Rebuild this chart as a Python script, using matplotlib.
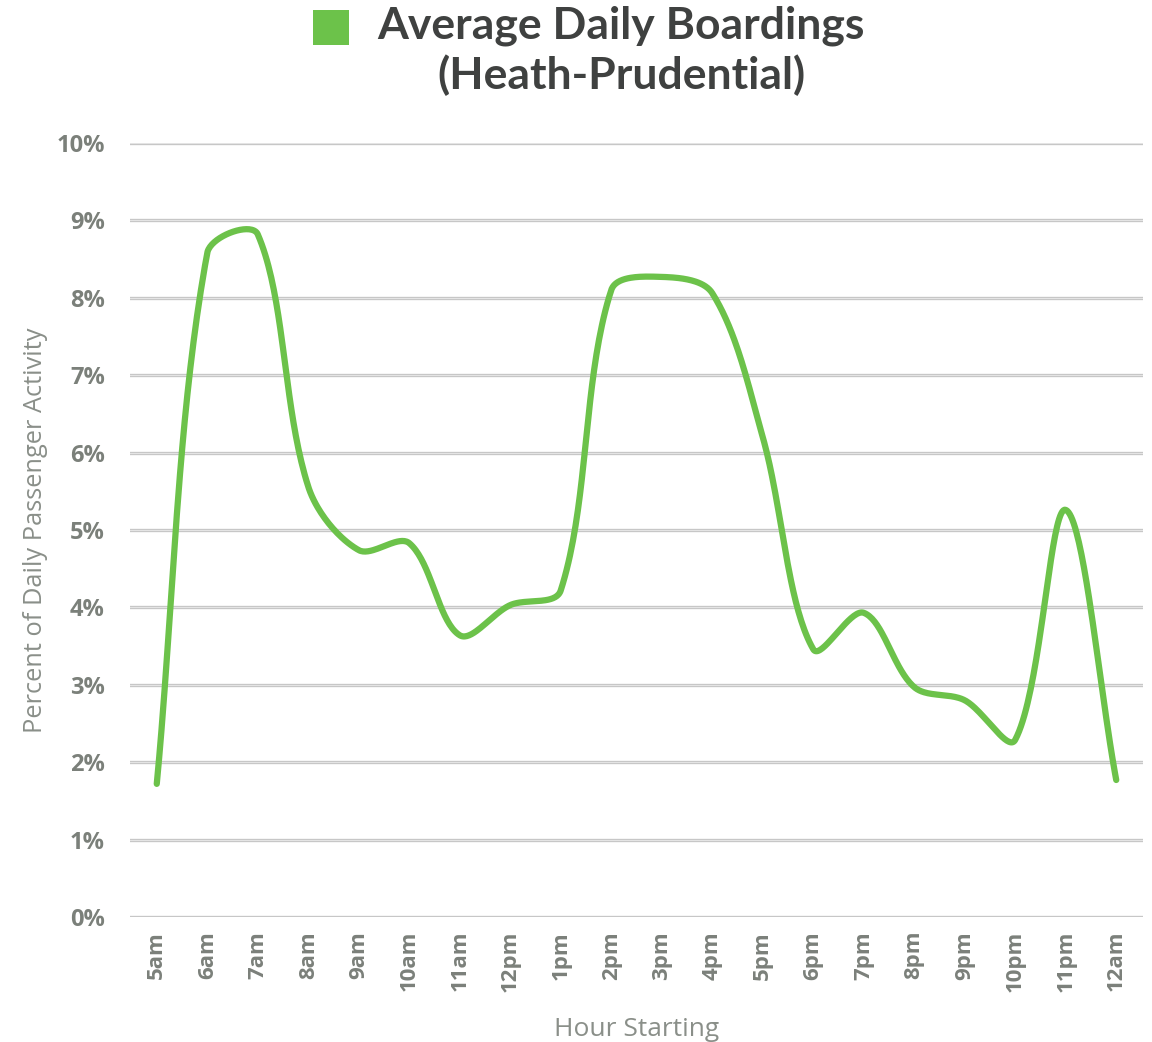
import numpy as np
import matplotlib
matplotlib.use("Agg")
import matplotlib.pyplot as plt
from matplotlib.patches import Rectangle

hours = ["5am", "6am", "7am", "8am", "9am", "10am", "11am", "12pm", "1pm", "2pm",
         "3pm", "4pm", "5pm", "6pm", "7pm", "8pm", "9pm", "10pm", "11pm", "12am"]
boardings = [1.72, 8.58, 8.82, 5.56, 4.74, 4.83, 3.64, 4.03, 4.22, 8.1,
             8.27, 8.06, 6.2, 3.46, 3.93, 2.97, 2.80, 2.29, 5.26, 1.77]
yticks = [0, 1, 2, 3, 4, 5, 6, 7, 8, 9, 10]
ytick_labels = [f"{v}%" for v in yticks]
series_name = "Average Daily Boardings\n(Heath-Prudential)"

GREEN = "#6cc24a"
TICK = "#7b807a"
LABEL = "#8a8f89"
TITLE = "#3f4140"

W, H = 1152, 1042


def smooth(xs, ys, ux, uy, n=40, k=1 / 3):
    """Spreadsheet-style smoothed line: cubic Bezier segments whose control
    arms are split in proportion to the neighbouring segment lengths
    (measured in screen units ux, uy per data unit)."""
    P = np.column_stack([np.asarray(xs, float) * ux, np.asarray(ys, float) * uy])
    m = len(P)
    cin = np.zeros_like(P)
    cout = np.zeros_like(P)
    for i in range(m):
        if i == 0:
            cout[i] = P[i] + (P[1] - P[0]) * k
            continue
        if i == m - 1:
            cin[i] = P[i] - (P[i] - P[i - 1]) * k
            continue
        T = P[i + 1] - P[i - 1]
        d0 = np.hypot(*(P[i] - P[i - 1]))
        d1 = np.hypot(*(P[i + 1] - P[i]))
        cin[i] = P[i] - T * d0 / (d0 + d1) * k
        cout[i] = P[i] + T * d1 / (d0 + d1) * k
    t = np.linspace(0, 1, n, endpoint=False)[:, None]
    pts = []
    for i in range(m - 1):
        b = ((1 - t) ** 3 * P[i] + 3 * (1 - t) ** 2 * t * cout[i]
             + 3 * (1 - t) * t ** 2 * cin[i + 1] + t ** 3 * P[i + 1])
        pts.append(b)
    pts.append(P[-1:])
    pts = np.vstack(pts)
    return pts[:, 0] / ux, pts[:, 1] / uy


fig = plt.figure(figsize=(W / 100, H / 100), dpi=100)
ax_l, ax_r, ax_t, ax_b = 130, 1143, 143, 917
ax = fig.add_axes([ax_l / W, 1 - ax_b / H, (ax_r - ax_l) / W, (ax_b - ax_t) / H])

x = np.arange(len(hours))
xlim = (-0.53, len(hours) - 0.47)
ylim = (0, 10)
ux = (ax_r - ax_l) / (xlim[1] - xlim[0])
uy = (ax_b - ax_t) / (ylim[1] - ylim[0])
sx, sy = smooth(x, boardings, ux, uy)
ax.plot(sx, sy, color=GREEN, lw=4.5, solid_capstyle="round", solid_joinstyle="round", zorder=3)

ax.set_xlim(*xlim)
ax.set_ylim(*ylim)
ax.set_yticks(yticks)
ax.set_yticklabels(ytick_labels)
ax.set_xticks(x)
ax.set_xticklabels(hours, rotation=90)

for v in yticks:
    ax.axhline(v, color="#c6c6c6", lw=2.4, zorder=1)
    ax.axhline(v, color="#e4e4e4", lw=0.8, zorder=1.1)

for s in ax.spines.values():
    s.set_visible(False)
ax.tick_params(axis="both", length=0)
ax.tick_params(axis="y", pad=18)
ax.tick_params(axis="x", pad=10)
for lab in ax.get_yticklabels() + ax.get_xticklabels():
    lab.set_fontfamily("Open Sans")
    lab.set_fontweight("bold")
    lab.set_color(TICK)
    lab.set_fontsize(17)
for lab in ax.get_xticklabels():
    lab.set_fontsize(16)

ax.set_ylabel("Percent of Daily Passenger Activity", fontsize=18.3, color=LABEL,
              fontfamily="Open Sans", labelpad=6)
ax.set_xlabel("Hour Starting", fontsize=19, color=LABEL, fontfamily="Open Sans", labelpad=18)

# legend entry (series name with colour key) at the top
fig.text(621 / W, 1 - 6 / H, series_name, ha="center", va="top", multialignment="center",
         fontfamily="Lato", fontweight="bold", fontsize=32, color=TITLE, linespacing=1.22)
fig.patches.append(Rectangle((313 / W, 1 - 45 / H), 36 / W, 35 / H, transform=fig.transFigure,
                             facecolor=GREEN, edgecolor="none"))

fig.savefig("out.png", dpi=100, facecolor="white")
